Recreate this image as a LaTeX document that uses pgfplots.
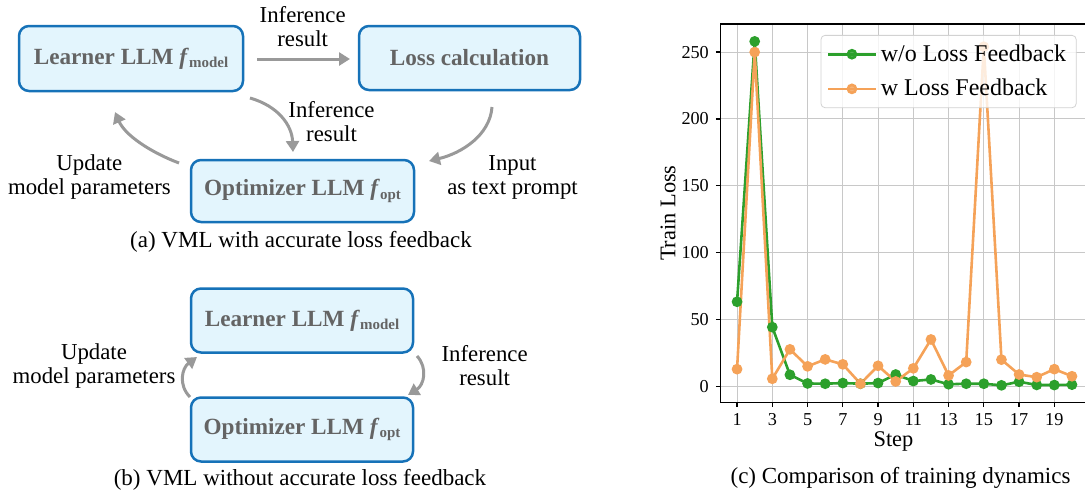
\documentclass[border=0pt]{standalone}
\usepackage{fontspec}
\setmainfont{Liberation Serif}
\usepackage{pgfplots}
\pgfplotsset{compat=1.18}
\usetikzlibrary{arrows.meta}
\definecolor{boxfill}{RGB}{227,245,253}
\definecolor{boxdraw}{RGB}{22,114,184}
\definecolor{txtgray}{RGB}{100,100,100}
\definecolor{arrgray}{RGB}{153,153,153}
\definecolor{cgreen}{RGB}{44,160,44}
\definecolor{corange}{RGB}{245,162,88}
\definecolor{gridgray}{RGB}{200,200,200}
\newcommand{\fsub}[1]{\textbf{\textit{f}}\raisebox{-0.35ex}{\fontsize{7.5}{8}\selectfont\textbf{#1}}}
\newcommand{\lbl}{\fontsize{11.4}{11.4}\selectfont}
\newcommand{\boxf}{\fontsize{11.6}{13}\selectfont\bfseries\color{txtgray}}
\begin{document}
\begin{tikzpicture}
\begin{scope}[x=0.5pt,y=-0.5pt,
  bx/.style={draw=boxdraw,fill=boxfill,line width=1.25pt,rounded corners=5pt},
  ar/.style={draw=arrgray,line width=1.5pt,-{Triangle[length=5.5pt,width=6.5pt]}}]
% (a)
\draw[bx] (19,26) rectangle (243,91);
\node at (131,58.5) {\boxf Learner LLM \fsub{model}};
\draw[bx] (359,26) rectangle (580,90);
\node at (469.5,58) {\boxf Loss calculation};
\draw[bx] (191,160) rectangle (414,222);
\node at (302.5,191) {\boxf Optimizer LLM \fsub{opt}};
\node[align=center] at (302.7,26.5) {\lbl Inference\\ \lbl result};
\draw[ar] (257,59) -- (350,59);
\node[align=center] at (331.5,121.5) {\lbl Inference\\ \lbl result};
\draw[ar] (250,98) .. controls (278,106) and (292,125) .. (293,152);
\draw[ar] (179,163) .. controls (150,152) and (125,135) .. (115,112);
\draw[ar] (492,107) .. controls (490,135) and (462,153) .. (429,161);
\node[align=center] at (89.4,177) {\lbl Update\\ \lbl model parameters};
\node[align=center] at (512.5,177) {\lbl Input\\ \lbl as text prompt};
\node at (301,241.5) {\fontsize{11.5}{13}\selectfont (a) VML with accurate loss feedback};
% (b)
\draw[bx] (191,288.5) rectangle (413,352.5);
\node at (302,320.5) {\boxf Learner LLM \fsub{model}};
\draw[bx] (191,397.5) rectangle (413,461.5);
\node at (302,429.5) {\boxf Optimizer LLM \fsub{opt}};
\draw[ar] (190,397) .. controls (178,385) and (182,368) .. (197,357);
\draw[ar] (417,356) .. controls (428,368) and (424,385) .. (408,395);
\node[align=center] at (94,366) {\lbl Update\\ \lbl model parameters};
\node[align=center] at (484.6,366) {\lbl Inference\\ \lbl result};
\node at (300,480) {\fontsize{11.5}{13}\selectfont (b) VML without accurate loss feedback};
% (c) caption
\node at (900.5,478) {\fontsize{11.5}{13}\selectfont (c) Comparison of training dynamics};
\end{scope}
\begin{axis}[at={(360.15pt,-201.15pt)}, anchor=south west, scale only axis,
  width=184.2pt, height=189.15pt,
  xmin=0.05, xmax=20.95, ymin=-11.9, ymax=271,
  xtick={1,3,...,19}, ytick={0,50,...,250},
  xtick pos=bottom, ytick pos=left, tick align=outside, major tick length=2.2pt,
  grid=major, major grid style={gridgray, line width=0.5pt},
  axis line style={line width=0.6pt},
  tick style={black, line width=0.6pt},
  /pgf/number format/assume math mode=true,
  tick label style={font=\fontsize{9.1}{10}\selectfont},
  xlabel={Step}, ylabel={Train Loss},
  label style={font=\fontsize{11.2}{12}\selectfont},
  xlabel style={at={(axis description cs:0.47,-0.104)},anchor=center},
  ylabel style={at={(axis description cs:-0.142,0.5)},anchor=center},
  legend style={at={(0.967,0.971)}, anchor=north east, draw=gray!35, rounded corners=2pt,
    fill=white, fill opacity=0.8, text opacity=1, font=\fontsize{12}{13}\selectfont,
    inner xsep=3pt, inner ysep=2.5pt, row sep=3.5pt},
  legend cell align=left,
  legend image code/.code={\draw[mark repeat=2,mark phase=2] plot coordinates {(0cm,0cm) (0.415cm,0cm) (0.83cm,0cm)};},
]
\addplot[cgreen, line width=1.3pt, mark=*, mark size=2pt] coordinates {
(1,63.3)(2,258)(3,44.3)(4,8.7)(5,2.2)(6,2.0)(7,2.5)(8,2.0)(9,2.5)(10,8.9)
(11,4)(12,5.2)(13,1.6)(14,2)(15,2)(16,0.8)(17,3.5)(18,1.1)(19,1)(20,1.3)};
\addlegendentry{w/o Loss Feedback}
\addplot[corange, line width=1.3pt, mark=*, mark size=2pt] coordinates {
(1,12.9)(2,250)(3,5.7)(4,27.7)(5,15)(6,20.2)(7,16.5)(8,2)(9,15.4)(10,3.7)
(11,13.5)(12,35.1)(13,8.2)(14,18.2)(15,254)(16,20)(17,8.9)(18,6.9)(19,12.9)(20,7.6)};
\addlegendentry{w Loss Feedback}
\end{axis}
\pgfresetboundingbox
\path[use as bounding box] (0pt,0pt) rectangle (542.5pt,-247.5pt);
\end{tikzpicture}
\end{document}
